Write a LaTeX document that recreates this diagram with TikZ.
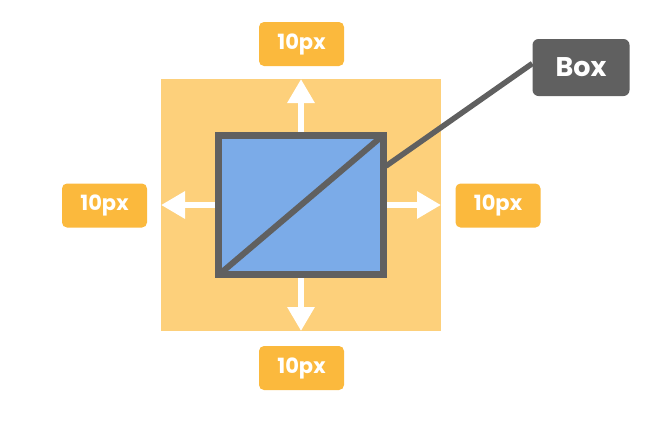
\documentclass[tikz,border=0pt]{standalone}
\usepackage{fontspec}
\setmainfont{Poppins}
\usetikzlibrary{arrows.meta}
\definecolor{padfill}{HTML}{FDD07B}
\definecolor{lblfill}{HTML}{FBB93D}
\definecolor{boxblue}{HTML}{7BABE8}
\definecolor{darkg}{HTML}{606060}
\begin{document}
\begin{tikzpicture}[x=1pt,y=-1pt,
  pxlabel/.style={fill=lblfill, rounded corners=5pt, minimum width=85pt, minimum height=44pt, inner sep=0pt, text=white, font=\fontsize{21}{23}\selectfont\bfseries},
  boxlabel/.style={fill=darkg, rounded corners=6pt, minimum width=97pt, minimum height=57pt, inner sep=0pt, text=white, font=\fontsize{27}{30}\selectfont\bfseries},
  warrow/.style={draw=white, line width=6pt, -{Triangle[width=26pt,length=24pt]}}
]
\useasboundingbox (0,0) rectangle (661,424);
% padding area
\node[fill=padfill, minimum width=280pt, minimum height=252pt, inner sep=0pt, anchor=north west] (pad) at (161,79) {};
% content box
\node[fill=boxblue, draw=darkg, line width=7pt, minimum width=165pt, minimum height=139pt, inner sep=0pt] (box) at (301,205) {};
\begin{scope}
\clip ([xshift=7pt,yshift=7pt]box.south west) rectangle ([xshift=-7pt,yshift=-7pt]box.north east);
\draw[darkg, line width=6pt] (box.south west) -- (box.north east);
\end{scope}
% arrows
\coordinate (tU) at (301,79);
\coordinate (tD) at (301,331);
\coordinate (tL) at (161,205);
\coordinate (tR) at (441,205);
\draw[warrow] (box.north) -- (tU);
\draw[warrow] (box.south) -- (tD);
\draw[warrow] (box.west) -- (tL);
\draw[warrow] (box.east) -- (tR);
% labels
\node[pxlabel] (lu) at (301.5,44) {10px};
\node[pxlabel] (ld) at (301.5,368) {10px};
\node[pxlabel] (ll) at (104.5,205.5) {10px};
\node[pxlabel] (lr) at (498,205.5) {10px};
% Box callout
\node[boxlabel] (bl) at (581,67.5) {Box};
\coordinate (cs) at (386,166);
\draw[darkg, line width=5.5pt] (cs) -- ([yshift=4pt]bl.west);
\end{tikzpicture}
\end{document}
